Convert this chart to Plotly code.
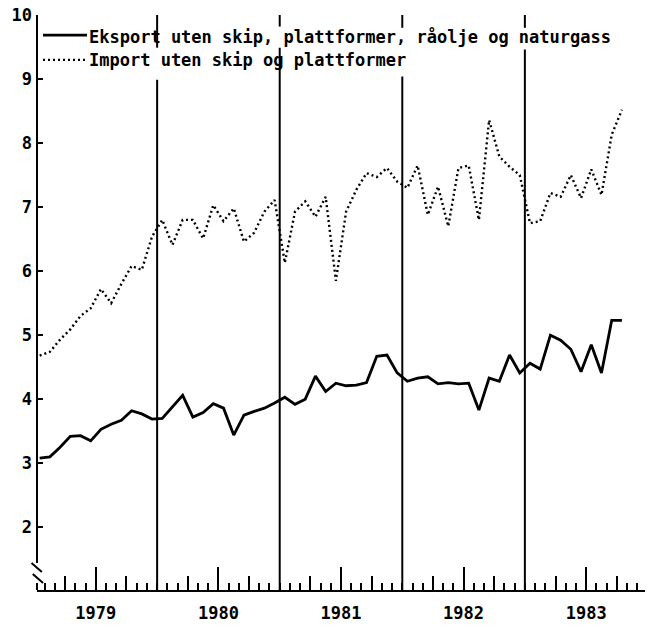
import plotly.graph_objects as go

# ---------------- data ----------------
years = [1979, 1980, 1981, 1982, 1983]
year_labels = ["1979", "1980", "1981", "1982", "1983"]
months_per_year = [12, 12, 12, 12, 10]

eksport = [
    3.08, 3.10, 3.25, 3.42, 3.43, 3.35, 3.53, 3.61, 3.67, 3.82, 3.77, 3.69,
    3.70, 3.88, 4.06, 3.72, 3.79, 3.93, 3.86, 3.44, 3.75, 3.81, 3.86, 3.94,
    4.03, 3.92, 4.00, 4.36, 4.12, 4.25, 4.21, 4.22, 4.26, 4.67, 4.69, 4.41,
    4.28, 4.33, 4.35, 4.24, 4.26, 4.24, 4.25, 3.83, 4.33, 4.28, 4.69, 4.41,
    4.56, 4.47, 5.00, 4.92, 4.78, 4.43, 4.85, 4.41, 5.23, 5.23,
]
importv = [
    4.68, 4.74, 4.93, 5.09, 5.30, 5.42, 5.72, 5.50, 5.80, 6.08, 6.02, 6.54,
    6.80, 6.41, 6.80, 6.80, 6.51, 7.03, 6.78, 6.98, 6.46, 6.60, 6.93, 7.11,
    6.13, 6.93, 7.09, 6.85, 7.16, 5.85, 6.93, 7.27, 7.53, 7.47, 7.61, 7.40,
    7.30, 7.65, 6.88, 7.32, 6.70, 7.61, 7.65, 6.80, 8.36, 7.79, 7.63, 7.50,
    6.75, 6.78, 7.22, 7.16, 7.50, 7.14, 7.59, 7.19, 8.13, 8.52,
]
legend_eksport = "Eksport uten skip, plattformer, råolje og naturgass"
legend_import = "Import uten skip og plattformer"
y_ticks = [2, 3, 4, 5, 6, 7, 8, 9, 10]

# year-boundary lines, with the gaps where the legend text masks them
year_lines = [1980, 1981, 1982, 1983]
line_gaps = {1980: (8.99, 9.49), 1981: (9.49, 9.82), 1982: (9.04, 9.80), 1983: (9.46, 9.80)}

# ---------------- derived ----------------
x = [yr + (m + 0.5) / 12 for yr, n in zip(years, months_per_year) for m in range(n)]
mid_year = [yr + 0.5 for yr in years]
quarters = [q for yr in years for q in (yr + 0.25, yr + 0.75)]

FONT = "DejaVu Sans Mono"
YMIN, YMAX = 1.02, 10
XMIN, XMAX = 1979.02, 1983.98

fig = go.Figure()
fig.add_trace(go.Scatter(x=x, y=eksport, mode="lines", name=legend_eksport,
                         line=dict(color="black", width=2.8), showlegend=False))
fig.add_trace(go.Scatter(x=x, y=importv, mode="lines", name=legend_import,
                         line=dict(color="black", width=2.4, dash="2px,3px"), showlegend=False))
# invisible helper for the quarter-tick axis
fig.add_trace(go.Scatter(x=[x[0]], y=[eksport[0]], xaxis="x2", mode="markers",
                         marker=dict(opacity=0), showlegend=False, hoverinfo="skip"))

shapes = []
# y axis line with break
shapes.append(dict(type="line", xref="paper", yref="y", x0=0, x1=0, y0=1.44, y1=YMAX,
                   line=dict(color="black", width=2)))
shapes.append(dict(type="line", xref="paper", yref="y", x0=0, x1=0, y0=YMIN, y1=1.13,
                   line=dict(color="black", width=2)))
shapes.append(dict(type="line", xref="paper", yref="y", x0=-0.009, x1=0.008, y0=1.44, y1=1.30,
                   line=dict(color="black", width=2)))
shapes.append(dict(type="line", xref="paper", yref="y", x0=-0.007, x1=0.010, y0=1.27, y1=1.13,
                   line=dict(color="black", width=2)))
for yl in year_lines:
    g0, g1 = line_gaps[yl]
    for a, b in ((YMIN, g0), (g1, YMAX)):
        shapes.append(dict(type="line", xref="x", yref="y", x0=yl, x1=yl, y0=a, y1=b,
                           line=dict(color="black", width=2)))
# legend samples
shapes.append(dict(type="line", xref="paper", yref="paper", x0=0.0099, x1=0.0822, y0=0.965, y1=0.965,
                   line=dict(color="black", width=2.8)))
shapes.append(dict(type="line", xref="paper", yref="paper", x0=0.0099, x1=0.0822, y0=0.922, y1=0.922,
                   line=dict(color="black", width=2.4, dash="2px,3px")))

annotations = [
    dict(xref="paper", yref="paper", x=0.0822, y=0.962, xanchor="left", yanchor="middle",
         text=legend_eksport, showarrow=False,
         font=dict(family=FONT, size=17, color="black", weight="bold")),
    dict(xref="paper", yref="paper", x=0.0822, y=0.922, xanchor="left", yanchor="middle",
         text=legend_import, showarrow=False,
         font=dict(family=FONT, size=17, color="black", weight="bold")),
]

tickfont = dict(family=FONT, size=17, color="black", weight="bold")

fig.update_layout(
    width=647, height=628,
    margin=dict(l=37, r=2, t=15, b=38, pad=0, autoexpand=False),
    paper_bgcolor="white", plot_bgcolor="white",
    shapes=shapes, annotations=annotations,
    xaxis=dict(range=[XMIN, XMAX], showgrid=False, zeroline=False, automargin=False,
               showline=True, linecolor="black", linewidth=2,
               tickvals=mid_year, ticktext=year_labels,
               ticks="inside", ticklen=23, tickwidth=2, tickcolor="black",
               tickfont=tickfont, ticklabelstandoff=7, ticklabeloverflow="allow",
               minor=dict(ticks="inside", tick0=1979, dtick=1/12, ticklen=7,
                          tickwidth=2, tickcolor="black", showgrid=False)),
    xaxis2=dict(range=[XMIN, XMAX], overlaying="x", matches="x", anchor="y", side="bottom",
                showgrid=False, zeroline=False, showline=False, automargin=False,
                tickvals=quarters, ticks="inside", ticklen=14, tickwidth=2,
                tickcolor="black", showticklabels=False),
    yaxis=dict(range=[YMIN, YMAX], showgrid=False, zeroline=False, showline=False,
               automargin=False, ticklabeloverflow="allow",
               tickvals=y_ticks, ticks="inside", ticklen=6, tickwidth=2, tickcolor="black",
               tickfont=tickfont, ticklabelstandoff=4),
)

# remove the browser's default 8px body margin so the figure fills the window
fig.write_html("out.html", config={"displayModeBar": False},
               post_script="document.body.style.margin='0px';")
